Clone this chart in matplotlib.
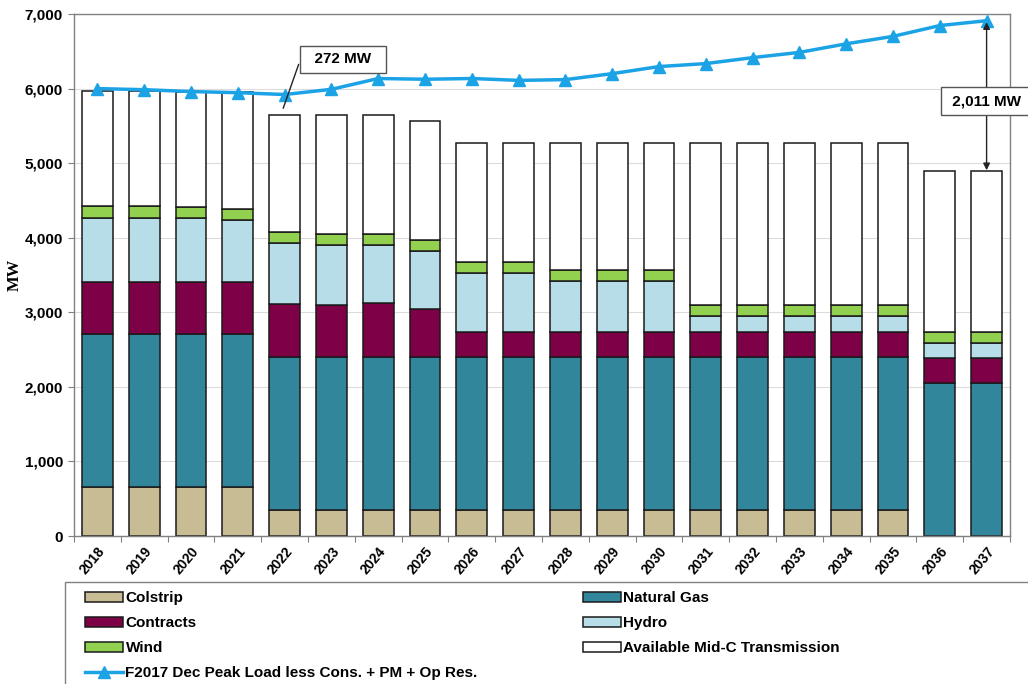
import numpy as np
import matplotlib
matplotlib.use("Agg")
import matplotlib.pyplot as plt
from matplotlib.patches import Rectangle
from matplotlib.ticker import FuncFormatter, FixedLocator

# Data (MW)
years = [str(y) for y in range(2018, 2038)]
colstrip = [660, 660, 660, 660] + [355] * 14 + [0, 0]
natural_gas = [2050] * 20
contracts = [700, 700, 700, 700, 700, 690, 720, 640] + [335] * 10 + [340, 340]
hydro = [860, 860, 850, 830, 820, 810, 780, 780, 790, 790, 680, 680, 680,
         210, 210, 210, 210, 210, 200, 200]
wind = [150] * 20
mid_c = [1550, 1550, 1550, 1570, 1575, 1595, 1595, 1595, 1585, 1585, 1695, 1695, 1695,
         2165, 2165, 2165, 2165, 2165, 2160, 2160]
peak_load = [6000, 5985, 5960, 5945, 5920, 5990, 6135, 6125, 6135, 6110, 6120, 6200,
             6295, 6335, 6415, 6485, 6600, 6700, 6845, 6910]

series = [
    ("Colstrip", colstrip, "#C8BC94"),
    ("Natural Gas", natural_gas, "#31869B"),
    ("Contracts", contracts, "#7E0046"),
    ("Hydro", hydro, "#B7DDE8"),
    ("Wind", wind, "#92D050"),
    ("Available Mid-C Transmission", mid_c, "#FFFFFF"),
]
line_color = "#1CA3E6"

plt.rcParams["font.family"] = ["Liberation Sans", "DejaVu Sans"]
plt.rcParams["font.weight"] = "bold"

fig = plt.figure(figsize=(10.28, 6.84), dpi=100)
ax = fig.add_axes([74 / 1028, 148 / 684, 936 / 1028, 522 / 684])

x = np.arange(len(years))
bottom = np.zeros(len(years))
handles = {}
for name, vals, color in series:
    vals = np.array(vals, dtype=float)
    b = ax.bar(x, vals, 0.66, bottom=bottom, color=color, edgecolor="#1a1a1a",
               linewidth=1.1, label=name, zorder=2)
    handles[name] = b
    bottom += vals

ln, = ax.plot(x, peak_load, color=line_color, lw=2.5, marker="^", markersize=8.5,
              label="F2017 Dec Peak Load less Cons. + PM + Op Res.", zorder=4)

ax.set_xlim(-0.5, len(years) - 0.5)
ax.set_ylim(0, 7000)
ax.set_yticks(np.arange(0, 7001, 1000))
ax.yaxis.set_major_formatter(FuncFormatter(lambda v, p: f"{int(v):,}"))
ax.tick_params(axis="y", labelsize=11, length=4, color="#808080", pad=4)
ax.grid(axis="y", color="#dcdcdc", lw=0.8, zorder=0)
ax.set_axisbelow(True)

# category ticks on boundaries, labels under the bars
ax.xaxis.set_major_locator(FixedLocator(np.arange(-0.5, len(years), 1.0)))
ax.xaxis.set_minor_locator(FixedLocator(x))
ax.set_xticklabels([])
ax.set_xticklabels(years, minor=True, rotation=50, ha="right",
                   rotation_mode="anchor", fontsize=10, fontweight="bold")
ax.tick_params(axis="x", which="major", length=4, color="#808080")
ax.tick_params(axis="x", which="minor", length=0, pad=6)

for s in ax.spines.values():
    s.set_color("#808080")
    s.set_linewidth(1.0)

ax.set_ylabel("MW", family=["Liberation Serif"], fontsize=12, fontweight="bold")
ax.yaxis.set_label_coords(-0.055, 0.5)

# 272 MW callout
ax.annotate("", xy=(3.95, 5700), xytext=(4.32, 6360),
            arrowprops=dict(arrowstyle="-", color="#222222", lw=1.0), zorder=5)
ax.text(5.25, 6390, "  272 MW  ", ha="center", va="center", fontsize=11, fontweight="bold",
        bbox=dict(boxstyle="square,pad=0.4", fc="white", ec="#555555", lw=1.0), zorder=6)

# 2,011 MW callout
ax.annotate("", xy=(19, 4905), xytext=(19, 6890),
            arrowprops=dict(arrowstyle="<|-|>", color="#222222", lw=1.0,
                            mutation_scale=10, shrinkA=0, shrinkB=0), zorder=5)
ax.text(19.0, 5830, " 2,011 MW ", ha="center", va="center", fontsize=11, fontweight="bold",
        bbox=dict(boxstyle="square,pad=0.45", fc="white", ec="#555555", lw=1.0),
        zorder=6, clip_on=False)

# legend frame and two legend columns
fig.patches.append(Rectangle((65 / 1028, -0.02), 1.0, (684 - 582) / 684 + 0.02,
                             transform=fig.transFigure, fill=False, ec="#808080", lw=1.0))
leg_kw = dict(loc="upper left", frameon=False, fontsize=11, borderpad=0,
              borderaxespad=0, handlelength=2.5, handleheight=0.65,
              handletextpad=0.15, labelspacing=0.72)
fig.legend([handles["Colstrip"], handles["Contracts"], handles["Wind"], ln],
           ["Colstrip", "Contracts", "Wind", ln.get_label()],
           bbox_to_anchor=(85 / 1028, (684 - 591) / 684), **leg_kw)
fig.legend([handles["Natural Gas"], handles["Hydro"], handles["Available Mid-C Transmission"]],
           ["Natural Gas", "Hydro", "Available Mid-C Transmission"],
           bbox_to_anchor=(583 / 1028, (684 - 591) / 684), **leg_kw)

fig.savefig("out.png", dpi=100)
